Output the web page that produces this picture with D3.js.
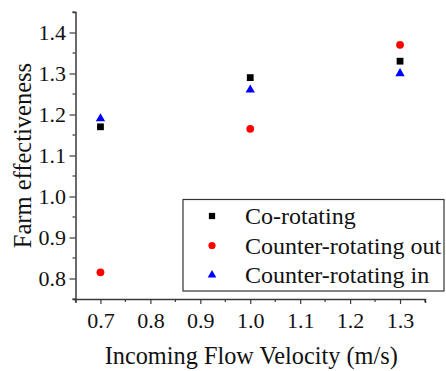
<!DOCTYPE html>
<html><head><meta charset="utf-8">
<script src="https://cdn.jsdelivr.net/npm/d3@7"></script>
<style>body{margin:0;background:#fff}svg{display:block}
svg text{font-family:"Liberation Serif","Times New Roman",Times,"DejaVu Serif",serif;}</style>
</head><body>
<script>
const velocities = [0.7, 1.0, 1.3];
const coRotating = [1.17, 1.29, 1.33];
const counterOut = [0.815, 1.165, 1.37];
const counterIn = [1.19, 1.26, 1.30];
const seriesNames = ["Co-rotating", "Counter-rotating out", "Counter-rotating in"];
const xTicks = [0.7, 0.8, 0.9, 1.0, 1.1, 1.2, 1.3];
const yTicks = [0.8, 0.9, 1.0, 1.1, 1.2, 1.3, 1.4];
const xMinor = [0.65, 0.75, 0.85, 0.95, 1.05, 1.15, 1.25, 1.35];
const yMinor = [0.75, 0.85, 0.95, 1.05, 1.15, 1.25, 1.35, 1.45];

const W = 446, H = 371;
const m = {l: 75.5, r: 21, t: 12, b: 72};
const axisColor = "#3a3a3a";

const svg = d3.select("body").append("svg").attr("width", W).attr("height", H);
const x = d3.scaleLinear().domain([0.65, 1.35]).range([m.l, W - m.r]);
const y = d3.scaleLinear().domain([0.75, 1.45]).range([H - m.b, m.t]);
const x0 = H - m.b;

const gx = svg.append("g").attr("transform", `translate(0,${x0})`)
  .call(d3.axisBottom(x).tickValues(xTicks).tickFormat(d3.format(".1f")).tickSize(5).tickSizeOuter(4).tickPadding(8));
gx.append("g").selectAll("line").data(xMinor).join("line")
  .attr("x1", d => x(d)).attr("x2", d => x(d)).attr("y1", 0).attr("y2", 3);
const gy = svg.append("g").attr("transform", `translate(${m.l},0)`)
  .call(d3.axisLeft(y).tickValues(yTicks).tickFormat(d3.format(".1f")).tickSize(6).tickSizeOuter(3).tickPadding(3.5));
gy.append("g").selectAll("line").data(yMinor).join("line")
  .attr("x1", 0).attr("x2", -3).attr("y1", d => y(d)).attr("y2", d => y(d));

[gx, gy].forEach(g => {
  g.attr("font-family", null);
  g.selectAll("path.domain").attr("stroke", axisColor).attr("stroke-width", 1.5);
  g.selectAll("line").attr("stroke", axisColor).attr("stroke-width", 1.2);
  g.selectAll("text").attr("font-size", 22).attr("fill", "#111");
});

svg.append("text").attr("x", (m.l + W - m.r) / 2 + 1).attr("y", 364).attr("text-anchor", "middle")
  .attr("font-size", 24.3).attr("fill", "#111").text("Incoming Flow Velocity (m/s)");
svg.append("text").attr("transform", `translate(30.5,${(m.t + x0) / 2}) rotate(-90)`).attr("text-anchor", "middle")
  .attr("font-size", 24.5).attr("fill", "#111").text("Farm effectiveness");

const colors = ["#000000", "#ff0000", "#0000ff"];
const shapes = [d3.symbolSquare, d3.symbolCircle, d3.symbolTriangle];
const sizes = [46, 48, 38];
const allSeries = [coRotating, counterOut, counterIn];

allSeries.forEach((vals, i) => {
  svg.append("g").selectAll("path").data(vals).join("path")
    .attr("d", d3.symbol().type(shapes[i]).size(sizes[i]))
    .attr("transform", (d, j) => `translate(${x(velocities[j])},${y(d)})`)
    .attr("fill", colors[i]);
});

const lg = svg.append("g");
lg.append("rect").attr("x", 183).attr("y", 199.5).attr("width", 261).attr("height", 91.5)
  .attr("fill", "#fff").attr("stroke", "#333").attr("stroke-width", 1.2);
const rowsY = [216, 245.5, 275];
seriesNames.forEach((name, i) => {
  lg.append("path").attr("d", d3.symbol().type(shapes[i]).size(sizes[i] * 0.85))
    .attr("transform", `translate(212,${rowsY[i]})`).attr("fill", colors[i]);
  lg.append("text").attr("x", 245).attr("y", rowsY[i] + 8)
    .attr("font-size", 24).attr("fill", "#111").text(name);
});
</script>
</body></html>
